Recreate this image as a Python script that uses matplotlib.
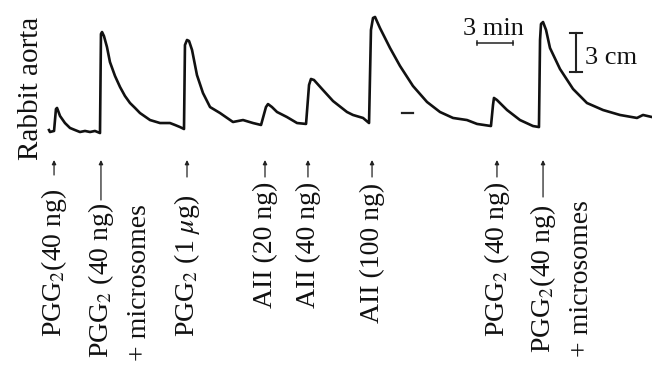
import matplotlib.pyplot as plt
import matplotlib.transforms as mtransforms

plt.rcParams['font.family'] = ['Liberation Serif', 'DejaVu Serif']
plt.rcParams['mathtext.fontset'] = 'stix'
plt.rcParams['text.color'] = '#111111'

# trace: time (min) and tension (cm above baseline)
trace_min = [0.0, 0.08, 0.42, 0.58, 0.67, 0.92, 1.33, 1.75, 2.17, 2.58, 3.0, 3.42, 3.83, 4.25,
             4.33, 4.42, 4.58, 4.83, 5.08, 5.5, 5.92, 6.33, 6.75, 7.17, 7.58, 8.42, 9.25, 10.08,
             10.5, 10.92, 11.25, 11.33, 11.5, 11.67, 11.92, 12.33, 12.83, 13.42, 14.25, 15.33,
             16.17, 17.0, 17.67, 18.08, 18.25, 18.58, 19.0, 19.83, 20.67, 21.42, 21.67, 21.83,
             22.08, 22.83, 23.67, 24.83, 25.33, 26.17, 26.67, 26.83, 27.0, 27.17, 27.58, 28.42,
             29.25, 30.33, 31.5, 32.58, 33.67, 34.83, 35.67, 36.83, 37.0, 37.08, 37.33, 38.17,
             39.25, 40.33, 40.83, 40.92, 41.0, 41.17, 41.42, 41.75, 42.58, 43.67, 44.83, 46.17,
             47.58, 49.0, 49.5, 50.25]
trace_cm = [0.15, 0.0, 0.08, 1.77, 1.85, 1.23, 0.69, 0.31, 0.15, 0.0, 0.08, 0.0, 0.08, -0.08,
            7.54, 7.69, 7.38, 6.54, 5.38, 4.31, 3.46, 2.77, 2.23, 1.85, 1.46, 0.92, 0.69, 0.69,
            0.54, 0.38, 0.23, 6.69, 7.08, 7.0, 6.31, 4.38, 3.0, 1.92, 1.46, 0.77,
            0.92, 0.69, 0.54, 1.92, 2.15, 1.92, 1.54, 1.15, 0.69, 0.62, 3.62, 4.08,
            4.0, 3.23, 2.38, 1.54, 1.31, 1.08, 0.69, 7.85, 8.77, 8.85, 8.0, 6.46,
            5.08, 3.54, 2.31, 1.54, 1.08, 0.92, 0.62, 0.46, 2.08, 2.62, 2.46, 1.69,
            0.92, 0.46, 0.38, 7.08, 8.31, 8.46, 7.85, 6.46, 4.85, 3.31, 2.23, 1.69,
            1.31, 1.08, 1.31, 1.15]

# injections
inj_min = [0.42, 4.33, 11.5, 18.0, 21.58, 26.92, 37.33, 41.17]
inj_label = ["PGG$_2$(40 ng)", "PGG$_2$ (40 ng)", "PGG$_2$ (1 $\\mu$g)", "AII (20 ng)",
             "AII (40 ng)", "AII (100 ng)", "PGG$_2$ (40 ng)", "PGG$_2$(40 ng)"]
inj_extra = ["", "+ microsomes", "", "", "", "", "", "+ microsomes"]

fig = plt.figure(figsize=(6.52, 3.69), dpi=100)
ax = fig.add_axes([0, 0, 1, 1])
ax.axis('off')
# 12 px per minute, 13 px per cm, trace origin at pixel (49, 132)
ax.set_xlim(-49 / 12, 603 / 12)
ax.set_ylim((132 - 369) / 13, 132 / 13)

ov = fig.add_axes([0, 0, 1, 1])
ov.axis('off')
ov.set_xlim(0, 652)
ov.set_ylim(369, 0)

ax.plot(trace_min, trace_cm, color='#111111', lw=1.9, solid_joinstyle='round')

# scale bars
ax.plot([35.67, 38.67], [6.85, 6.85], color='#222', lw=1.1)
ax.plot([35.67, 35.67], [6.7, 7.0], color='#222', lw=1.1)
ax.plot([38.67, 38.67], [6.7, 7.0], color='#222', lw=1.1)
ax.plot([43.92, 43.92], [4.62, 7.62], color='#222', lw=1.5)
ax.plot([43.45, 44.45], [4.62, 4.62], color='#222', lw=1.5)
ax.plot([43.45, 44.45], [7.62, 7.62], color='#222', lw=1.5)
ov.text(463, 35, "3 min", fontsize=19, ha='left', va='baseline')
ov.text(585, 64, "3 cm", fontsize=19, ha='left', va='baseline')

ax.plot([29.45, 30.3], [1.46, 1.46], color='#222', lw=1.6)

ov.text(38, 160, "Rabbit aorta", fontsize=21, rotation=90, rotation_mode='anchor',
        ha='left', va='baseline')

mix = mtransforms.blended_transform_factory(ax.transData, ov.transData)
start_y = [337, 358, 337, 308, 308, 323, 337, 353]
extra_y = [0, 361, 0, 0, 0, 0, 0, 357]
tail_y = [175, 200, 177, 177, 177, 177, 177, 197]
for t, lab, ext, y0, y1, ty in zip(inj_min, inj_label, inj_extra, start_y, extra_y, tail_y):
    ax.text(t + 0.58, y0, lab, transform=mix, fontsize=20, rotation=90,
            rotation_mode='anchor', ha='left', va='baseline')
    if ext:
        ax.text(t + 3.75, y1, ext, transform=mix, fontsize=20, rotation=90,
                rotation_mode='anchor', ha='left', va='baseline')
    ax.annotate("", xy=(t, 160), xytext=(t, ty), xycoords=mix, textcoords=mix,
                arrowprops=dict(arrowstyle='-|>', lw=0.9, color='#222',
                                mutation_scale=6, shrinkA=0, shrinkB=0))

fig.savefig("out.png", dpi=100)
